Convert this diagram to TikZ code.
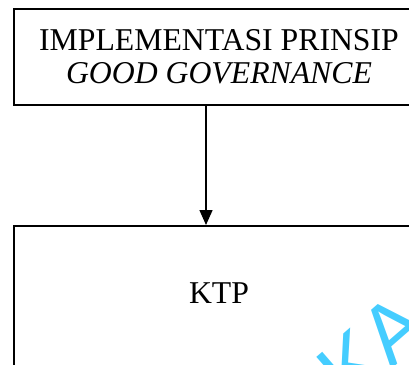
\documentclass[tikz,border=0pt]{standalone}
\usepackage{fontspec}
\setmainfont{Liberation Serif}
\newfontfamily\markfont{Liberation Sans}
\usepackage{xcolor}
\usepackage{tikz}
\usetikzlibrary{arrows.meta}
\definecolor{ink}{HTML}{000000}
\definecolor{mark}{HTML}{45CDFF}
\tikzset{
  box/.style={draw=ink, line width=1.5pt, rectangle, inner sep=0pt,
    minimum width=307.5pt, font=\fontsize{23.8}{24.75}\selectfont, align=center},
  arr/.style={-{Triangle[length=11.25pt,width=9.75pt]}, line width=1.1pt, draw=ink},
  wmark/.style={text=mark, font=\markfont\fontsize{63}{63}\selectfont, inner sep=0pt}
}
\begin{document}
\begin{tikzpicture}[x=0.75pt,y=-0.75pt]
  \useasboundingbox (0,0) rectangle (409,364);
  \clip (0,0) rectangle (409,364);

  % watermark fragment
  \node[wmark, anchor=base west, rotate=41] (wm) at (349,406) {KA};

  \node[box, anchor=north west, minimum height=72pt] (imp) at (13,8)
    {IMPLEMENTASI PRINSIP\\ \textit{GOOD GOVERNANCE}};
  \node[box, anchor=north west, text height=57.75pt, text depth=90pt] (ktp) at (13,225) {KTP};

  \draw[arr] ([xshift=-9.75pt]imp.south) -- ([xshift=-9.75pt]ktp.north);
\end{tikzpicture}
\end{document}
